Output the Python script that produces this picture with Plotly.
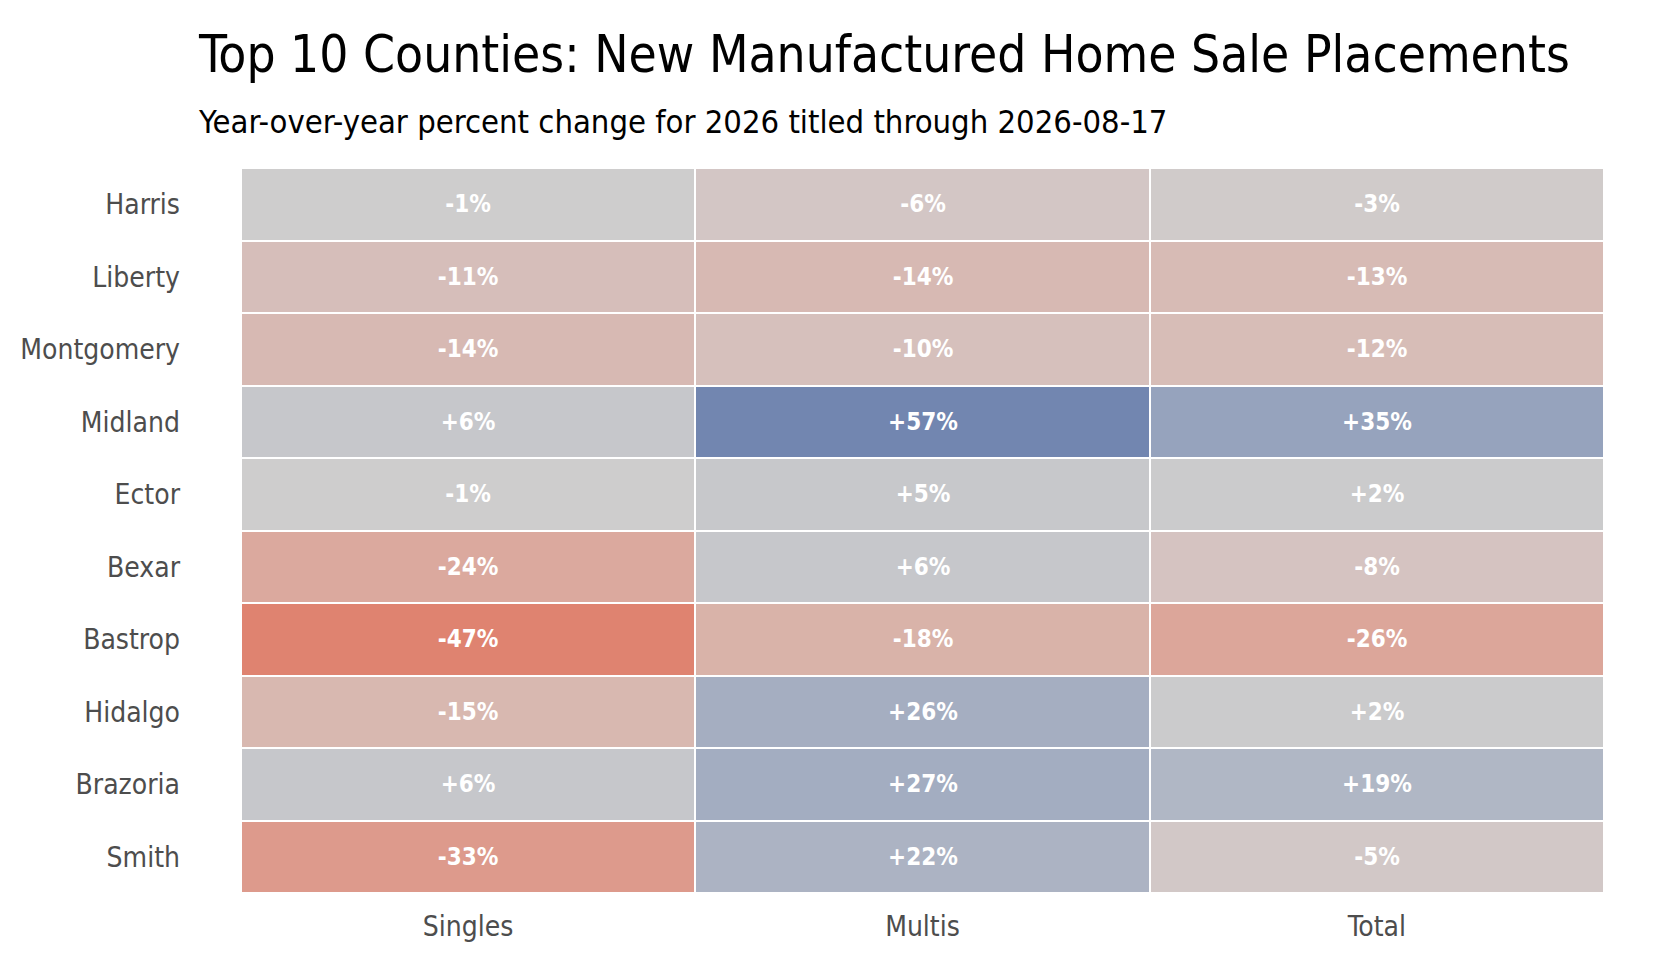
import plotly.graph_objects as go

# Year-over-year percent change, rows top to bottom
counties = ['Harris', 'Liberty', 'Montgomery', 'Midland', 'Ector',
            'Bexar', 'Bastrop', 'Hidalgo', 'Brazoria', 'Smith']
columns = ['Singles', 'Multis', 'Total']

singles = [-1, -11, -14, 6, -1, -24, -47, -15, 6, -33]
multis = [-6, -14, -10, 57, 5, 6, -18, 26, 27, 22]
total = [-3, -13, -12, 35, 2, -8, -26, 2, 19, -5]

z = [[s, m, t] for s, m, t in zip(singles, multis, total)]
labels = [['{:+d}%'.format(v) for v in row] for row in z]

FONT = 'Liberation Sans Narrow, DejaVu Sans Condensed, sans-serif'

# diverging scale, grey at zero
zlim = 57
stops = [(-57, '#e0725c'), (-47, '#df8370'), (-26, '#dca69a'), (-18, '#d9b3a9'),
         (-8, '#d5c3c1'), (-2, '#cfcdcc'), (0, '#cdcdcd'), (6, '#c6c7cb'),
         (35, '#96a3bd'), (57, '#7286b0')]
colorscale = [[(v + zlim) / (2 * zlim), c] for v, c in stops]

fig = go.Figure(go.Heatmap(
    z=z, x=columns, y=counties,
    text=labels, texttemplate='%{text}',
    textfont=dict(family=FONT, size=24, color='white', weight='bold'),
    colorscale=colorscale, zmin=-zlim, zmax=zlim,
    showscale=False, xgap=2, ygap=2, hoverinfo='skip'))

fig.update_layout(
    width=1660, height=960,
    margin=dict(l=233, r=64, t=160, b=75),
    paper_bgcolor='white', plot_bgcolor='white',
    font=dict(family=FONT),
    xaxis=dict(showgrid=False, zeroline=False, ticks='', side='bottom',
               tickfont=dict(size=28, color='#4d4d4d'), ticklabelstandoff=14),
    yaxis=dict(showgrid=False, zeroline=False, ticks='', autorange='reversed',
               tickfont=dict(size=28, color='#4d4d4d'), ticklabelstandoff=60),
    annotations=[
        dict(text='Top 10 Counties: New Manufactured Home Sale Placements',
             xref='paper', yref='paper', x=-0.033, y=1.156, xanchor='left', yanchor='middle',
             showarrow=False, font=dict(family=FONT, size=51, color='black')),
        dict(text='Year-over-year percent change for 2026 titled through 2026-08-17',
             xref='paper', yref='paper', x=-0.033, y=1.063, xanchor='left', yanchor='middle',
             showarrow=False, font=dict(family=FONT, size=32.5, color='black')),
    ],
)

fig.write_html('out.html')
